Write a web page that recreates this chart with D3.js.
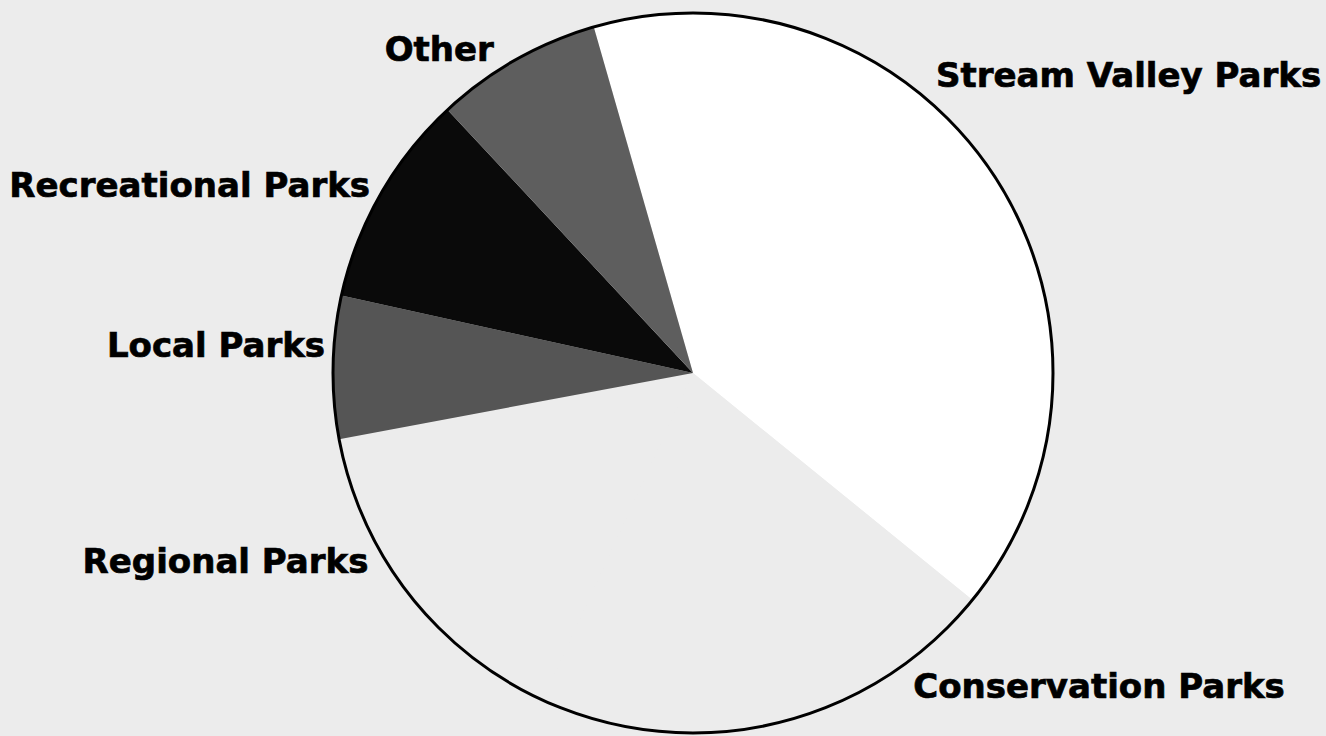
<!DOCTYPE html>
<html>
<head>
<meta charset="utf-8">
<script src="https://cdn.jsdelivr.net/npm/d3@7"></script>
<style>
  html, body { margin: 0; padding: 0; background: #ececec; }
  svg { display: block; }
  .label { font-family: "DejaVu Sans", Verdana, sans-serif; font-weight: bold; font-size: 34px; fill: #000; stroke: #000; stroke-width: 0.7px; }
</style>
</head>
<body>
<svg class="pie" width="1326" height="736"></svg>
<script>
// share of park land by type (percent)
const categories = ['Stream Valley Parks', 'Conservation Parks', 'Regional Parks', 'Local Parks', 'Recreational Parks', 'Other']
const shares = [40.3, 21.0, 15.2, 6.4, 9.6, 7.5]

const svg = d3.select('svg.pie')
const cx = 693, cy = 373, radius = 360
const start = -16 * Math.PI / 180 // first slice starts a bit left of 12 o'clock

const fill = d3.scaleOrdinal()
  .domain(categories)
  .range(['#ffffff', '#ececec', '#ececec', '#555555', '#0a0a0a', '#5e5e5e'])

const pie = d3.pie()
  .sort(null)
  .startAngle(start)
  .endAngle(start + 2 * Math.PI)

const arc = d3.arc().innerRadius(0).outerRadius(radius)
const labelArc = d3.arc().innerRadius(radius + 20).outerRadius(radius + 20)

// labels were dragged around in the original, so nudge them off the slice centroid
const nudge = {
  'Stream Valley Parks': [-74, -77],
  'Conservation Parks': [134, -45],
  'Regional Parks': [-25, -34],
  'Local Parks': [12, -10],
  'Recreational Parks': [7, 12],
  'Other': [-12, 19]
}

const arcs = pie(shares).map((a, i) => Object.assign(a, { name: categories[i] }))

const g = svg.append('g').attr('transform', `translate(${cx}, ${cy})`)

g.selectAll('path.slice')
  .data(arcs)
  .enter()
  .append('path')
  .attr('class', 'slice')
  .attr('d', arc)
  .attr('fill', d => fill(d.name))

// outline round the whole pie
g.append('circle')
  .attr('r', radius)
  .attr('fill', 'none')
  .attr('stroke', '#000')
  .attr('stroke-width', 3)

g.selectAll('text.label')
  .data(arcs)
  .enter()
  .append('text')
  .attr('class', 'label')
  .attr('x', d => labelArc.centroid(d)[0] + nudge[d.name][0])
  .attr('y', d => labelArc.centroid(d)[1] + nudge[d.name][1])
  .attr('text-anchor', d => ((d.startAngle + d.endAngle) / 2) % (2 * Math.PI) < Math.PI ? 'start' : 'end')
  .text(d => d.name)
</script>
</body>
</html>
